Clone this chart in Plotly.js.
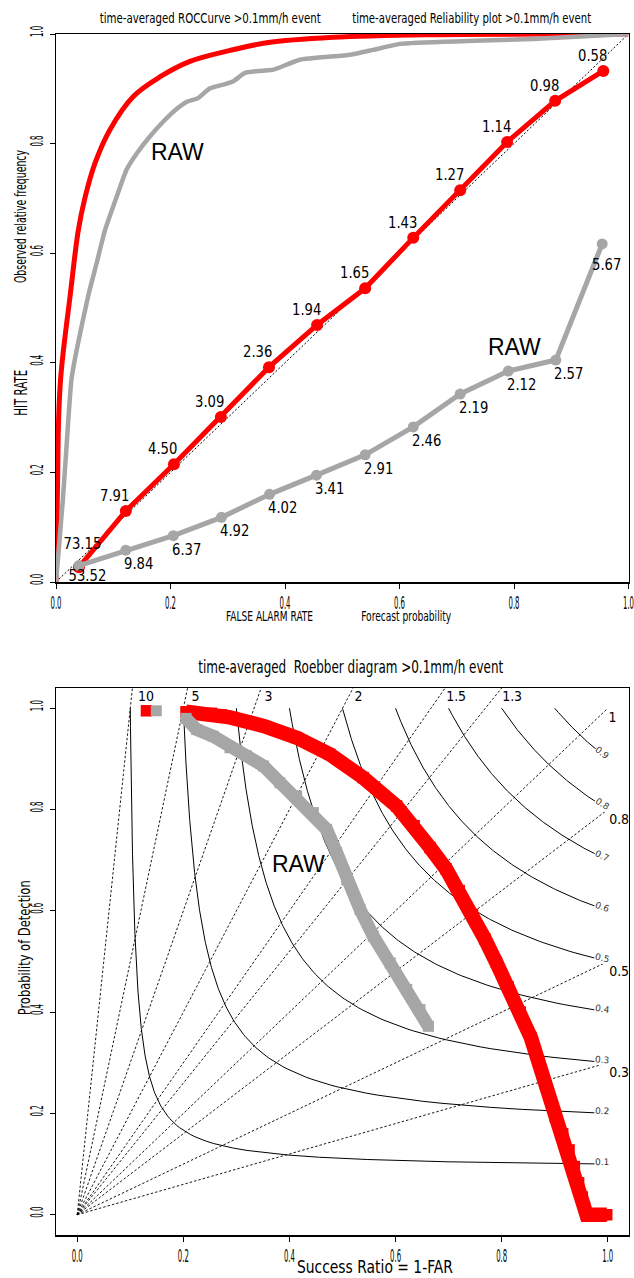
<!DOCTYPE html>
<html>
<head>
<meta charset="utf-8">
<script src="https://cdn.plot.ly/plotly-3.0.1.min.js"></script>
<style>html,body{margin:0;padding:0;background:#fff;}#gd{width:634px;height:1278px;}</style>
</head>
<body>
<div id="gd"></div>
<script>
// ---------------- DATA ----------------
// ROC curves (false alarm rate, hit rate)
var rocRedFAR = [0, 0.0015, 0.003, 0.0045, 0.008, 0.013, 0.0245, 0.039, 0.051, 0.068, 0.094, 0.135, 0.182, 0.234, 0.304, 0.368, 0.484, 0.659, 0.85, 1.0];
var rocRedHR  = [0, 0.10, 0.20, 0.296, 0.37, 0.423, 0.521, 0.642, 0.703, 0.764, 0.825, 0.886, 0.922, 0.950, 0.970, 0.984, 0.994, 0.9988, 0.9998, 1.0];
var rocRawFAR = [0, 0.012, 0.0215, 0.027, 0.036, 0.056, 0.071, 0.0856, 0.106, 0.123, 0.141, 0.164, 0.190, 0.208, 0.228, 0.248, 0.269, 0.29, 0.31, 0.33, 0.36, 0.38, 0.426, 0.514, 0.554, 0.601, 0.717, 0.833, 1.0];
var rocRawHR  = [0, 0.15, 0.296, 0.37, 0.423, 0.521, 0.582, 0.642, 0.703, 0.752, 0.782, 0.813, 0.843, 0.861, 0.876, 0.883, 0.901, 0.907, 0.914, 0.929, 0.933, 0.935, 0.953, 0.962, 0.971, 0.982, 0.987, 0.991, 1.0];

// Reliability (forecast probability, observed relative frequency, sample % labels)
var relRedFP  = [0.040, 0.122, 0.206, 0.288, 0.372, 0.456, 0.540, 0.624, 0.706, 0.788, 0.872, 0.956];
var relRedOF  = [0.027, 0.1296, 0.215, 0.301, 0.392, 0.469, 0.536, 0.628, 0.715, 0.803, 0.878, 0.9325];
var relRedLab = ['73.15','7.91','4.50','3.09','2.36','1.94','1.65','1.43','1.27','1.14','0.98','0.58'];
var relRawFP  = [0.040, 0.122, 0.205, 0.289, 0.373, 0.455, 0.540, 0.624, 0.706, 0.790, 0.873, 0.954];
var relRawOF  = [0.030, 0.058, 0.0845, 0.118, 0.160, 0.195, 0.232, 0.283, 0.343, 0.385, 0.405, 0.617];
var relRawLab = ['53.52','9.84','6.37','4.92','4.02','3.41','2.91','2.46','2.19','2.12','2.57','5.67'];

// Roebber (performance) diagram (success ratio, probability of detection)
var perfRedSR  = [0.1305, null, 0.205, 0.234, 0.253, 0.272, 0.288, 0.351, 0.4135, 0.476, 0.539, 0.602, 0.635, 0.665, 0.695, 0.72, 0.745, 0.768, 0.79, 0.812, 0.835, 0.855, 0.87, 0.882, 0.901, 0.915, 0.927, 0.937, 0.945, 0.952, 0.956, 0.96, 0.975, 0.99, 0.998];
var perfRedPOD = [0.995, null, 0.993, 0.991, 0.990, 0.987, 0.982, 0.965, 0.942, 0.909, 0.863, 0.807, 0.768, 0.725, 0.683, 0.64, 0.593, 0.545, 0.498, 0.45, 0.40, 0.35, 0.30, 0.26, 0.194, 0.16, 0.128, 0.095, 0.063, 0.035, 0.016, 0.0, 0.0, 0.0, 0.0];
var perfRawSR  = [0.149, null, 0.205, 0.225, 0.256, 0.288, 0.319, 0.351, 0.382, 0.4136, 0.445, 0.470, 0.489, 0.508, 0.533, 0.558, 0.590, 0.621, 0.646, 0.662];
var perfRawPOD = [0.995, null, 0.98, 0.958, 0.945, 0.922, 0.906, 0.886, 0.853, 0.827, 0.794, 0.761, 0.715, 0.662, 0.603, 0.550, 0.497, 0.445, 0.405, 0.372];

// reference isolines of the diagram
var csiLevels  = [0.1, 0.2, 0.3, 0.4, 0.5, 0.6, 0.7, 0.8, 0.9];
var biasLevels = [10, 5, 3, 2, 1.5, 1.3, 1, 0.8, 0.5, 0.3];
var tickVals   = [0, 0.2, 0.4, 0.6, 0.8, 1.0];

// ---------------- STYLE / BUILD ----------------
var RED = '#ff0000', GRAY = '#a6a6a6';
var W = 634, H = 1278;
function px2x(px){ return px / W; }
function px2y(py){ return 1 - py / H; }

var traces = [];
// top subplot
traces.push({x:[0,1], y:[0,1], mode:'lines', line:{color:'#000', width:1, dash:'2px,2px'}, xaxis:'x', yaxis:'y', hoverinfo:'skip'});
traces.push({x:rocRedFAR, y:rocRedHR, mode:'lines', line:{color:RED, width:5, shape:'spline', smoothing:1}, xaxis:'x', yaxis:'y'});
traces.push({x:rocRawFAR, y:rocRawHR, mode:'lines', line:{color:GRAY, width:4.5, shape:'spline', smoothing:0.5}, xaxis:'x', yaxis:'y'});
traces.push({x:relRedFP, y:relRedOF, mode:'lines+markers', line:{color:RED, width:5}, marker:{color:RED, size:12}, xaxis:'x', yaxis:'y'});
traces.push({x:relRawFP, y:relRawOF, mode:'lines+markers', line:{color:GRAY, width:5}, marker:{color:GRAY, size:11}, xaxis:'x', yaxis:'y'});

// bottom subplot: bias lines
biasLevels.forEach(function(b){
  var ex, ey;
  if (b > 1) { ey = 1.2; ex = ey / b; } else { ex = 1; ey = b; }
  traces.push({x:[0, ex], y:[0, ey], mode:'lines', line:{color:'#000', width:0.9, dash:'2.5px,2px'}, xaxis:'x2', yaxis:'y2', hoverinfo:'skip'});
});
// CSI isolines: CSI = 1/(1/SR + 1/POD - 1)
csiLevels.forEach(function(c){
  var xs = [], ys = [], n = 200;
  for (var i = 0; i <= n; i++) {
    var pod = c + (1 - c) * i / n;
    var sr = 1 / (1 / c + 1 - 1 / pod);
    xs.push(sr); ys.push(pod);
  }
  traces.push({x:xs, y:ys, mode:'lines', line:{color:'#000', width:1}, xaxis:'x2', yaxis:'y2', hoverinfo:'skip'});
});
traces.push({x:perfRedSR, y:perfRedPOD, mode:'lines+markers', connectgaps:false, line:{color:RED, width:14.5}, marker:{color:RED, size:11.5, symbol:'square'}, xaxis:'x2', yaxis:'y2'});
traces.push({x:perfRawSR, y:perfRawPOD, mode:'lines+markers', connectgaps:false, line:{color:GRAY, width:13}, marker:{color:GRAY, size:11, symbol:'square'}, xaxis:'x2', yaxis:'y2'});

// ---------------- ANNOTATIONS ----------------
var ann = [], sq = [];
function addAnn(a, squeeze){ ann.push(a); sq.push(squeeze || null); }
var COND = 'DejaVu Sans Condensed, DejaVu Sans';

// titles & axis titles (paper coords)
function ptxt(text, px, py, size, target, angle){
  addAnn({xref:'paper', yref:'paper', x:px2x(px), y:px2y(py), text:text, showarrow:false,
          xanchor:'center', yanchor:'middle', textangle:angle||0, font:{family:COND, size:size, color:'#000'}}, {w:target});
}
ptxt('time-averaged ROCCurve >0.1mm/h event', 209.7, 18, 14, 221);
ptxt('time-averaged Reliability plot >0.1mm/h event', 471.2, 18, 14, 239);
ptxt('FALSE ALARM RATE', 269.3, 615.5, 14, 87);
ptxt('Forecast probability', 406.7, 616, 14, 90);
ptxt('Observed relative frequency', 20, 216.5, 15, 133, -90);
ptxt('HIT RATE', 20, 393, 18, 46, -90);
ptxt('time-averaged  Roebber diagram >0.1mm/h event', 350.5, 667, 17, 305);
ptxt('Probability of Detection', 25, 948, 15, 135, -90);
ptxt('Success Ratio = 1-FAR', 374.9, 1266, 18, 156);

// reliability point labels
var LABF = {family:'DejaVu Sans', size:15, color:'#000'};
relRedLab.forEach(function(t, i){
  var xs = -11, ys = 15;
  if (i === 0) { xs = 4; ys = 23; }
  addAnn({xref:'x', yref:'y', x:relRedFP[i], y:relRedOF[i], text:t, showarrow:false, xanchor:'center', yanchor:'middle', xshift:xs, yshift:ys, font:LABF}, {f:0.88});
});
relRawLab.forEach(function(t, i){
  var xs = 13, ys = -14;
  if (i === 0) { xs = 9; ys = -10; }
  if (i === relRawLab.length - 1) { xs = 4; ys = -21; }
  addAnn({xref:'x', yref:'y', x:relRawFP[i], y:relRawOF[i], text:t, showarrow:false, xanchor:'center', yanchor:'middle', xshift:xs, yshift:ys, font:LABF}, {f:0.88});
});
var RAWF = {family:'Liberation Sans, Arial, sans-serif', size:23, color:'#000'};
addAnn({xref:'x', yref:'y', x:0.2126, y:0.785, text:'RAW', showarrow:false, xanchor:'center', yanchor:'middle', font:RAWF});
addAnn({xref:'x', yref:'y', x:0.8017, y:0.4288, text:'RAW', showarrow:false, xanchor:'center', yanchor:'middle', font:RAWF});
addAnn({xref:'x2', yref:'y2', x:0.4166, y:0.6917, text:'RAW', showarrow:false, xanchor:'center', yanchor:'middle', font:RAWF});

// CSI labels
csiLevels.forEach(function(c){
  var sr = 0.99, pod = 1 / (1 / c + 1 - 1 / sr);
  var ang = Math.atan(c * c * (506 / 530)) * 180 / Math.PI;
  addAnn({xref:'x2', yref:'y2', x:sr, y:pod, text:String(c), showarrow:false, xanchor:'center', yanchor:'middle',
          yshift:2, textangle:ang, bgcolor:'#fff', borderpad:0, font:{family:'DejaVu Sans', size:9, color:'#333'}});
});
// bias labels
biasLevels.forEach(function(b){
  var a;
  if (b > 1) {
    a = {x:1.025 / b, y:1.025, xshift:3, yshift:0};
  } else {
    a = {x:1, y:b, xshift:-2, yshift:-9};
  }
  addAnn({xref:'x2', yref:'y2', x:a.x, y:a.y, text:String(b), showarrow:false, xanchor:'left', yanchor:'middle',
          xshift:a.xshift, yshift:a.yshift, font:{family:'DejaVu Sans', size:14, color:'#000'}}, {f:0.9});
});

var axBase = {tickvals:tickVals, tickformat:'.1f', ticks:'outside', ticklen:5, tickwidth:1, tickcolor:'#000',
  showgrid:false, zeroline:false, showline:true, mirror:true, linecolor:'#000', linewidth:1,
  ticklabeloverflow:'allow', tickfont:{family:COND, size:17, color:'#000'}};
function ax(extra){ var o = JSON.parse(JSON.stringify(axBase)); for (var k in extra) o[k] = extra[k]; return o; }

var layout = {
  width:W, height:H, margin:{l:0, r:0, t:0, b:0},
  paper_bgcolor:'#fff', plot_bgcolor:'#fff', showlegend:false,
  font:{family:COND, color:'#000'},
  xaxis: ax({domain:[px2x(56), px2x(628.5)], range:[0, 1], anchor:'y', linewidth:1.5}),
  yaxis: ax({domain:[px2y(582), px2y(34)], range:[0, 1], anchor:'x', tickangle:-90}),
  xaxis2: ax({domain:[px2x(56), px2x(629)], range:[-0.04, 1.04], anchor:'y2', linewidth:1.5}),
  yaxis2: ax({domain:[px2y(1235), px2y(688)], range:[-0.04, 1.04], anchor:'x2', tickangle:-90}),
  annotations: ann
};

var gd = document.getElementById('gd');
Plotly.newPlot(gd, traces, layout, {staticPlot:true, displayModeBar:false}).then(function(){
  function squeeze(el, f, target){
    var w = el.getComputedTextLength();
    if (!w) return 1;
    var t = target || w * f;
    el.setAttribute('textLength', t.toFixed(1));
    el.setAttribute('lengthAdjust', 'spacingAndGlyphs');
    return t / w;
  }
  gd.querySelectorAll('.xtick text, .ytick text, .x2tick text, .y2tick text').forEach(function(e){
    var w = e.getComputedTextLength();
    squeeze(e, 1, 11);
  });
  gd.querySelectorAll('.annotation').forEach(function(a){
    var i = +a.getAttribute('data-index');
    var s = sq[i];
    if (!s) return;
    var t = a.querySelector('text');
    if (!t) return;
    var r = squeeze(t, s.f, s.w);
    a.querySelectorAll('rect').forEach(function(rc){
      var rw = parseFloat(rc.getAttribute('width')), rx = parseFloat(rc.getAttribute('x')) || 0;
      if (!isFinite(rw)) return;
      var nw = rw * r;
      rc.setAttribute('width', nw.toFixed(1));
      rc.setAttribute('x', (rx + (rw - nw) / 2).toFixed(1));
    });
  });
});
</script>
</body>
</html>
